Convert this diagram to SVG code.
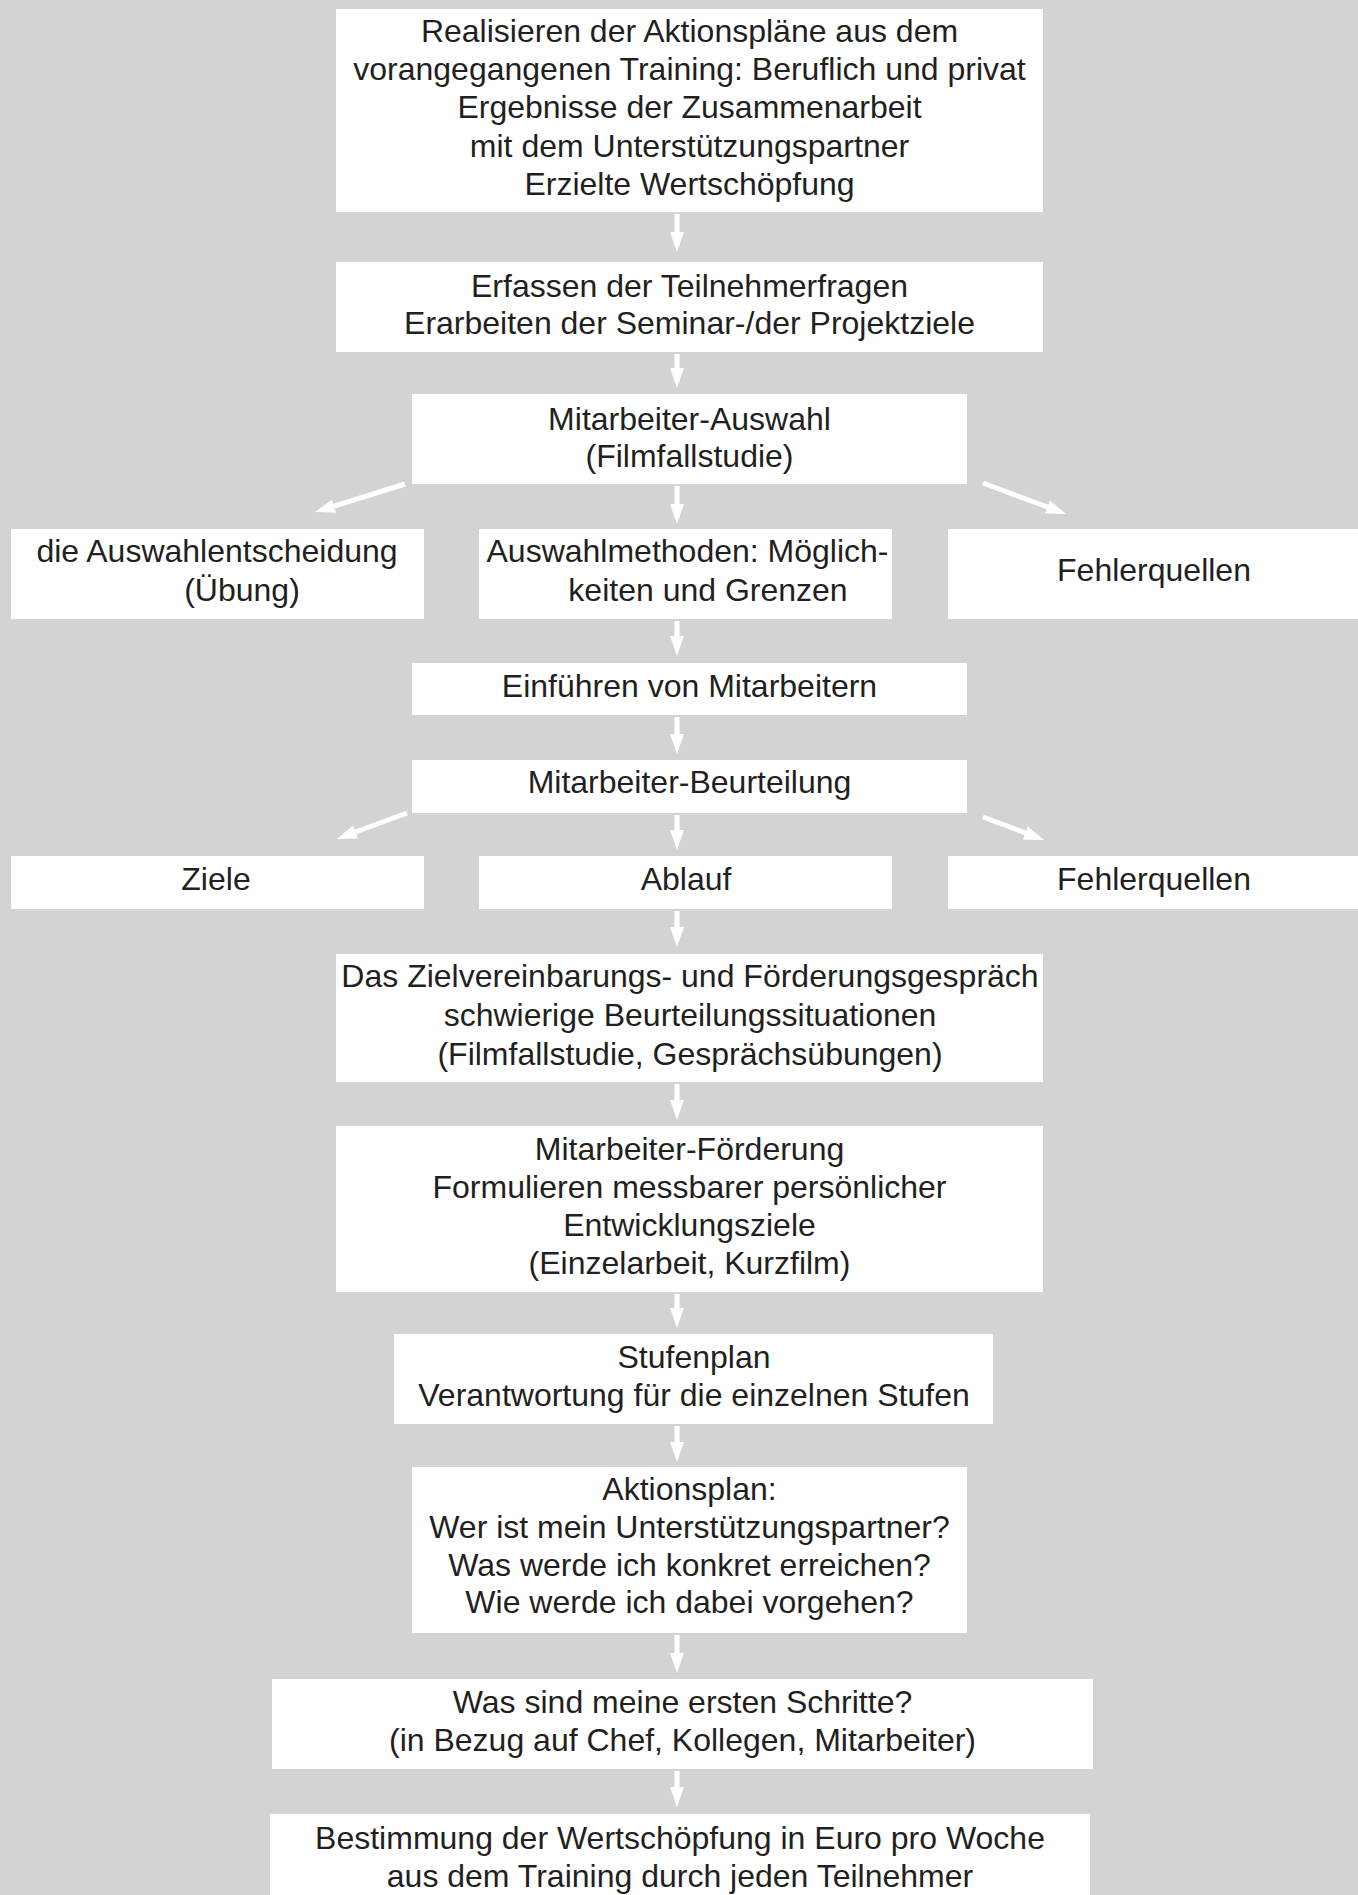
<svg xmlns="http://www.w3.org/2000/svg" width="1358" height="1895" viewBox="0 0 1358 1895">
<style>
.box{fill:#ffffff;stroke:none}
.t{font-family:"Liberation Sans",Arial,Helvetica,sans-serif;font-size:32px;fill:#231f20;text-anchor:middle}
.c{stroke:#ffffff;stroke-width:5;fill:none;marker-end:url(#ah)}
</style>
<defs>
<marker id="ah" viewBox="0 0 20 14" refX="0" refY="7" markerWidth="20" markerHeight="14" markerUnits="userSpaceOnUse" orient="auto">
<path d="M0,0 L20,7 L0,14 z" fill="#ffffff"/>
</marker>
</defs>
<rect x="0" y="0" width="1358" height="1895" fill="#d1d3d4"/>

<g id="connectors">
<line class="c" x1="677" y1="214" x2="677" y2="232"/>
<line class="c" x1="677" y1="354" x2="677" y2="368"/>
<line class="c" x1="677" y1="486" x2="677" y2="504"/>
<line class="c" x1="677" y1="621" x2="677" y2="636"/>
<line class="c" x1="677" y1="717" x2="677" y2="734"/>
<line class="c" x1="677" y1="815" x2="677" y2="830"/>
<line class="c" x1="677" y1="911" x2="677" y2="927"/>
<line class="c" x1="677" y1="1084" x2="677" y2="1100"/>
<line class="c" x1="677" y1="1294" x2="677" y2="1308"/>
<line class="c" x1="677" y1="1426" x2="677" y2="1442"/>
<line class="c" x1="677" y1="1635" x2="677" y2="1653"/>
<line class="c" x1="677" y1="1771" x2="677" y2="1787"/>
<line class="c" x1="405" y1="484" x2="334.1" y2="506.1"/>
<line class="c" x1="983" y1="483" x2="1047.3" y2="507"/>
<line class="c" x1="407" y1="813" x2="355.7" y2="832"/>
<line class="c" x1="983" y1="817" x2="1025.3" y2="832.9"/>
</g>

<g id="n1">
<rect class="box" x="336" y="9" width="707" height="203"/>
<text class="t" x="689.5" y="42">Realisieren der Aktionspläne aus dem</text>
<text class="t" x="689.5" y="80">vorangegangenen Training: Beruflich und privat</text>
<text class="t" x="689.5" y="118">Ergebnisse der Zusammenarbeit</text>
<text class="t" x="689.5" y="157">mit dem Unterstützungspartner</text>
<text class="t" x="689.5" y="195">Erzielte Wertschöpfung</text>
</g>
<g id="n2">
<rect class="box" x="336" y="262" width="707" height="90"/>
<text class="t" x="689.5" y="297">Erfassen der Teilnehmerfragen</text>
<text class="t" x="689.5" y="334">Erarbeiten der Seminar-/der Projektziele</text>
</g>
<g id="n3">
<rect class="box" x="412" y="394" width="555" height="90"/>
<text class="t" x="689.5" y="430">Mitarbeiter-Auswahl</text>
<text class="t" x="689.5" y="467">(Filmfallstudie)</text>
</g>
<g id="n4">
<rect class="box" x="11" y="529" width="413" height="90"/>
<text class="t" x="217" y="562">die Auswahlentscheidung</text>
<text class="t" x="242" y="601">(Übung)</text>
</g>
<g id="n5">
<rect class="box" x="479" y="529" width="413" height="90"/>
<text class="t" x="687.5" y="562">Auswahlmethoden: Möglich-</text>
<text class="t" x="708" y="601">keiten und Grenzen</text>
</g>
<g id="n6">
<rect class="box" x="948" y="529" width="410" height="90"/>
<text class="t" x="1154" y="581">Fehlerquellen</text>
</g>
<g id="n7">
<rect class="box" x="412" y="663" width="555" height="52"/>
<text class="t" x="689.5" y="697">Einführen von Mitarbeitern</text>
</g>
<g id="n8">
<rect class="box" x="412" y="760" width="555" height="53"/>
<text class="t" x="689.5" y="793">Mitarbeiter-Beurteilung</text>
</g>
<g id="n9">
<rect class="box" x="11" y="856" width="413" height="53"/>
<text class="t" x="216" y="890">Ziele</text>
</g>
<g id="n10">
<rect class="box" x="479" y="856" width="413" height="53"/>
<text class="t" x="686" y="890">Ablauf</text>
</g>
<g id="n11">
<rect class="box" x="948" y="856" width="410" height="53"/>
<text class="t" x="1154" y="890">Fehlerquellen</text>
</g>
<g id="n12">
<rect class="box" x="336" y="954" width="707" height="128"/>
<text class="t" x="690" y="987">Das Zielvereinbarungs- und Förderungsgespräch</text>
<text class="t" x="690" y="1026">schwierige Beurteilungssituationen</text>
<text class="t" x="690" y="1065">(Filmfallstudie, Gesprächsübungen)</text>
</g>
<g id="n13">
<rect class="box" x="336" y="1126" width="707" height="166"/>
<text class="t" x="689.5" y="1160">Mitarbeiter-Förderung</text>
<text class="t" x="689.5" y="1198">Formulieren messbarer persönlicher</text>
<text class="t" x="689.5" y="1236">Entwicklungsziele</text>
<text class="t" x="689.5" y="1274">(Einzelarbeit, Kurzfilm)</text>
</g>
<g id="n14">
<rect class="box" x="394" y="1334" width="599" height="90"/>
<text class="t" x="694" y="1368">Stufenplan</text>
<text class="t" x="694" y="1406">Verantwortung für die einzelnen Stufen</text>
</g>
<g id="n15">
<rect class="box" x="412" y="1467" width="555" height="166"/>
<text class="t" x="689.5" y="1500">Aktionsplan:</text>
<text class="t" x="689.5" y="1538">Wer ist mein Unterstützungspartner?</text>
<text class="t" x="689.5" y="1576">Was werde ich konkret erreichen?</text>
<text class="t" x="689.5" y="1613">Wie werde ich dabei vorgehen?</text>
</g>
<g id="n16">
<rect class="box" x="272" y="1679" width="821" height="90"/>
<text class="t" x="682.5" y="1713">Was sind meine ersten Schritte?</text>
<text class="t" x="682.5" y="1751">(in Bezug auf Chef, Kollegen, Mitarbeiter)</text>
</g>
<g id="n17">
<rect class="box" x="270" y="1814" width="820" height="90"/>
<text class="t" x="680" y="1849">Bestimmung der Wertschöpfung in Euro pro Woche</text>
<text class="t" x="680" y="1887">aus dem Training durch jeden Teilnehmer</text>
</g>
</svg>
